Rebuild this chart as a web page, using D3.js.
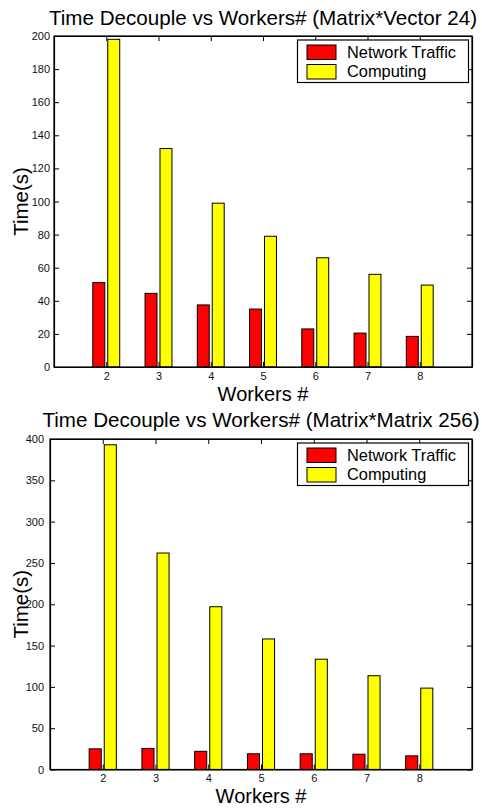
<!DOCTYPE html>
<html>
<head>
<meta charset="utf-8">
<script src="https://cdn.jsdelivr.net/npm/d3@7"></script>
<style>
  body { margin: 0; background: #fff; }
  svg { display: block; font-family: "Liberation Sans", Arial, sans-serif; }
</style>
</head>
<body>
<svg id="chart" width="482" height="808"></svg>
<script>
// data
const workers = [2, 3, 4, 5, 6, 7, 8];
const seriesNames = ["Network Traffic", "Computing"];
const seriesColors = ["#ff0000", "#ffff00"];

const mvNetwork = [51, 44.5, 37.5, 35, 23, 20.5, 18.5];
const mvComputing = [198, 132, 99, 79, 66, 56, 49.5];
const mvTicks = [0, 20, 40, 60, 80, 100, 120, 140, 160, 180, 200];

const mmNetwork = [25, 25.5, 22, 19, 19, 18.5, 16.5];
const mmComputing = [393, 262, 197, 158, 133.5, 113.5, 98.5];
const mmTicks = [0, 50, 100, 150, 200, 250, 300, 350, 400];

const svg = d3.select("#chart");

function drawPanel(opts) {
    const { left, right, top, bottom, title, titleY, xLabelY, yMax, yTicks, yPad, net, comp } = opts;

    const x = d3.scaleLinear().domain([1, 9]).range([left, right]);
    const y = d3.scaleLinear().domain([0, yMax]).range([bottom, top]);
    const unit = x(2) - x(1);
    const barW = 0.229 * unit;
    const offs = [-0.143, 0.143];

    const g = svg.append("g");

    // bars
    [net, comp].forEach((vals, s) => {
        g.selectAll(".bar" + s)
            .data(vals)
            .enter().append("rect")
            .attr("x", (d, i) => x(workers[i] + offs[s]) - barW / 2)
            .attr("y", d => y(d))
            .attr("width", barW)
            .attr("height", d => y(0) - y(d))
            .attr("fill", seriesColors[s])
            .attr("stroke", "#000")
            .attr("stroke-width", 1);
    });

    // axes (matlab style box, ticks pointing in)
    const tickLen = 5;
    g.append("g")
        .attr("transform", `translate(0,${bottom})`)
        .call(d3.axisBottom(x).tickValues(workers).tickFormat(d3.format("d")).tickSizeInner(-tickLen).tickSizeOuter(0).tickPadding(5));
    g.append("g")
        .attr("transform", `translate(0,${top})`)
        .call(d3.axisTop(x).tickValues(workers).tickFormat("").tickSizeInner(-tickLen).tickSizeOuter(0));
    g.append("g")
        .attr("transform", `translate(${left},0)`)
        .call(d3.axisLeft(y).tickValues(yTicks).tickFormat(d3.format("d")).tickSizeInner(-tickLen).tickSizeOuter(0).tickPadding(yPad));
    g.append("g")
        .attr("transform", `translate(${right},0)`)
        .call(d3.axisRight(y).tickValues(yTicks).tickFormat("").tickSizeInner(-tickLen).tickSizeOuter(0));

    g.selectAll(".domain").attr("stroke", "#000").attr("stroke-width", 1.2);
    g.selectAll(".tick line").attr("stroke", "#000");
    g.selectAll(".tick text").attr("font-size", 11).attr("fill", "#111")
        .attr("font-family", "Liberation Sans, Arial, sans-serif");

    g.append("rect")
        .attr("x", left).attr("y", top)
        .attr("width", right - left).attr("height", bottom - top)
        .attr("fill", "none").attr("stroke", "#000").attr("stroke-width", 1.2);

    // title
    g.append("text")
        .attr("x", (left + right) / 2)
        .attr("y", titleY)
        .attr("text-anchor", "middle")
        .style("font-size", "20.6px")
        .text(title);

    // axis labels
    g.append("text")
        .attr("x", (left + right) / 2)
        .attr("y", xLabelY)
        .attr("text-anchor", "middle")
        .style("font-size", "20px")
        .text("Workers #");

    g.append("text")
        .attr("transform", "rotate(-90)")
        .attr("x", -(top + bottom) / 2)
        .attr("y", 27.5)
        .attr("text-anchor", "middle")
        .style("font-size", "20.5px")
        .text("Time(s)");

    // legend
    const lx = right - 174.5, ly = top + 4;
    const leg = g.append("g").attr("transform", `translate(${lx},${ly})`);
    leg.append("rect")
        .attr("width", 171).attr("height", 42.5)
        .attr("fill", "#fff").attr("stroke", "#000").attr("stroke-width", 1.2);
    seriesNames.forEach((name, i) => {
        leg.append("rect")
            .attr("x", 9.5).attr("y", 5 + i * 19.5)
            .attr("width", 29).attr("height", 14.5)
            .attr("fill", seriesColors[i]).attr("stroke", "#000");
        leg.append("text")
            .attr("x", 49.5).attr("y", 17.5 + i * 19.5)
            .style("font-size", "16.4px")
            .text(name);
    });
}

drawPanel({
    left: 54, right: 472, top: 36, bottom: 367,
    title: "Time Decouple vs Workers# (Matrix*Vector 24)", titleY: 25, xLabelY: 401,
    yMax: 200, yTicks: mvTicks, yPad: 4, net: mvNetwork, comp: mvComputing
});

drawPanel({
    left: 50, right: 472, top: 439, bottom: 769.5,
    title: "Time Decouple vs Workers# (Matrix*Matrix 256)", titleY: 427, xLabelY: 803,
    yMax: 400, yTicks: mmTicks, yPad: 6, net: mmNetwork, comp: mmComputing
});
</script>
</body>
</html>
